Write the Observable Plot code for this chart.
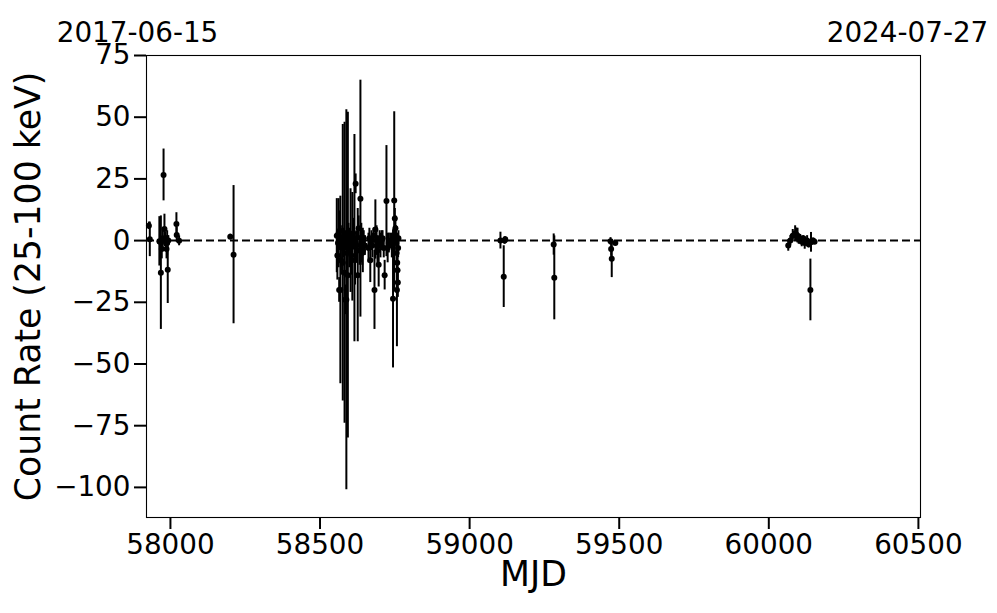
<!DOCTYPE html>
<html>
<head>
<meta charset="utf-8">
<script src="https://cdn.jsdelivr.net/npm/d3@7"></script>
<script src="https://cdn.jsdelivr.net/npm/@observablehq/plot@0.6"></script>
<style>
  html, body { margin: 0; padding: 0; background: #fff; }
  #chart svg { font-family: "DejaVu Sans", sans-serif; display: block; }
</style>
</head>
<body>
<div id="chart"></div>
<script>
// Observation times (MJD), count rates (25-100 keV) and 1-sigma errors
const mjd = [
  57928, 57931, 57963, 57965, 57968, 57971, 57974, 57977, 57980, 57982, 57985, 57987, 57989, 57991, 57993,
  58020, 58021, 58029, 58200, 58211,
  58556, 58558, 58560, 58562, 58564, 58566, 58568, 58570, 58572, 58574, 58576, 58578, 58580, 58582, 58584,
  58586, 58588, 58590, 58593, 58595, 58598, 58602, 58605, 58608, 58611, 58615, 58617, 58619, 58622, 58626,
  58629, 58632, 58635, 58638, 58641, 58643, 58646, 58650,
  58662, 58665, 58668, 58672, 58675, 58679, 58682, 58685, 58689, 58692, 58696, 58699, 58702, 58706, 58709,
  58713, 58716, 58722, 58726, 58730, 58735, 58740, 58744, 58748, 58750, 58752, 58754, 58755, 58756, 58757,
  58758, 58759, 58760, 58761, 58762,
  59103, 59114, 59117, 59119, 59281, 59283, 59471, 59473, 59475, 59487,
  60065, 60072, 60080, 60088, 60092, 60096, 60100, 60105, 60110, 60115, 60120, 60128, 60133, 60139, 60141,
  60148, 60153
];
const rate = [
  6, 0.5, -0.3, -0.5, -13, -3.4, 1, 26.6, 4.7, 0.5, -1, -3.4, -1, -11.8, 0,
  6.7, 2.3, -0.1, 1.6, -5.7,
  2, -6, -1, 3, -20, 4, -20, -8, -1, 1, -9, -3, 2, -13, -24,
  0, -24, -5, -14, 2, -3, 0, -6, -2.5, 3, 1, -8, 23, -2, -14,
  5, -4, 17, -1, -5, -4, 1, -2,
  -3, 1, -8, 0, -2, 2, -20, 4.5, 0, -4, -9.8, 1, -2, 0, 1,
  -3, -14, 16, -3, -1, 0, -2, -23.6, 16.2, 9, 5, 2, -1, -5, -20,
  -9, -12, -17, -3, 1,
  0, -14.6, 0, 0.5, -1.6, -15.1, -0.3, -3.4, -7.4, -1,
  -2, 0, 2, 3, 2.5, 2, 0.5, 1, -0.5, 1, -1, 0, -1.5, -20, -0.7,
  0, -0.5
];
const err = [
  1.5, 7, 10, 3, 23, 4, 4, 10.5, 6, 3, 3, 4, 5, 13.7, 2,
  4.6, 3, 2, 1, 28,
  15, 10, 4, 14, 5, 8, 38, 6, 3, 5, 56, 4, 3, 61, 6,
  4, 77, 10, 66, 5, 8, 21, 8, 22, 6, 42, 10, 4, 6, 27,
  5, 6, 48, 8, 5, 9, 3, 4,
  6, 4, 9, 4, 5, 3, 16, 12, 6, 6, 9, 3, 5, 4, 3,
  4, 6, 22.5, 6, 4, 3, 5, 28, 36, 4, 5, 4, 3, 5, 23,
  6, 5, 6, 4, 3,
  3.4, 12.5, 1.5, 1, 4.3, 17, 1.5, 3, 7.6, 1,
  2.3, 2, 2.5, 3, 2.6, 3, 2, 1.5, 2, 1, 2.5, 2, 1.5, 12.5, 4,
  1, 1
];
const xTicks = [58000, 58500, 59000, 59500, 60000, 60500];
const yTicks = [-100, -75, -50, -25, 0, 25, 50, 75];
const xDomain = [57920, 60507];
const yDomain = [-112.2, 75];
const dateLabels = ["2017-06-15", "2024-07-27"];
const xLabel = "MJD";
const yLabel = "Count Rate (25-100 keV)";

const data = mjd.map((m, i) => ({mjd: m, rate: rate[i], lo: rate[i] - err[i], hi: rate[i] + err[i]}));
const minus = d => d < 0 ? "\u2212" + Math.abs(d) : String(d);

const chart = Plot.plot({
  width: 997,
  height: 613,
  marginLeft: 146,
  marginRight: 77,
  marginTop: 55,
  marginBottom: 96,
  style: {fontFamily: "DejaVu Sans, sans-serif", color: "#000", background: "#fff"},
  x: {domain: xDomain},
  y: {domain: yDomain},
  marks: [
    Plot.ruleY([0], {stroke: "#000", strokeWidth: 2, strokeDasharray: "8,4"}),
    Plot.ruleX(data, {x: "mjd", y1: "lo", y2: "hi", stroke: "#000", strokeWidth: 2}),
    Plot.dot(data, {x: "mjd", y: "rate", r: 3, fill: "#000", stroke: "none"}),
    Plot.frame({stroke: "#000", strokeWidth: 1.1}),
    Plot.axisX({ticks: xTicks, tickFormat: d => String(d), tickSize: 12, tickPadding: 5, strokeWidth: 2, fontSize: 27.8, label: null}),
    Plot.axisY({ticks: yTicks, tickFormat: minus, tickSize: 12, tickPadding: 4, strokeWidth: 2, fontSize: 27.8, label: null}),
    Plot.text([xLabel], {frameAnchor: "bottom", dy: 68, fontSize: 34.7, fill: "#000", textAnchor: "middle"}),
    Plot.text([yLabel], {frameAnchor: "left", dx: -118, rotate: -90, fontSize: 34.7, fill: "#000", textAnchor: "middle", lineAnchor: "middle"}),
    Plot.text([dateLabels[0]], {frameAnchor: "top-left", dx: -9, dy: -33, fontSize: 27.8, textAnchor: "middle", fill: "#000"}),
    Plot.text([dateLabels[1]], {frameAnchor: "top-right", dx: -13, dy: -33, fontSize: 27.8, textAnchor: "middle", fill: "#000"})
  ]
});
document.getElementById("chart").appendChild(chart);
</script>
</body>
</html>
